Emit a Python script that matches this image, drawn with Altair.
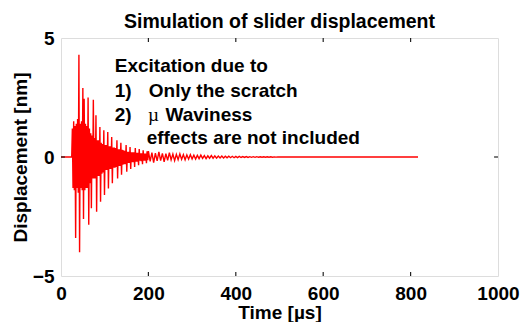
import altair as alt
import pandas as pd

# ---------------- data ----------------
lead_t = [0, 24.5]
lead_v = [0.0, 0.0]

dense_t = [26, 27.5, 29, 30.5, 32, 33.5, 35, 36.5, 38, 39.5,
           41, 42.5, 44, 45.5, 47, 48.5, 50, 51.5, 53, 54.5,
           56, 57.5, 59, 60.5, 62, 63.5, 65, 66.5, 68, 69.5,
           71, 72.5, 74, 75.5, 77, 78.5, 80, 81.5, 83, 84.5,
           86, 87.5, 89, 90.5, 92, 93.5, 95, 96.5, 98, 99.5,
           101, 102.5, 104, 105.5, 107, 108.5, 110, 111.5, 113, 114.5,
           116, 117.5, 119, 120.5, 122, 123.5, 125, 126.5, 128, 129.5,
           131, 132.5, 134, 135.5, 137, 138.5, 140, 141.5, 143, 144.5,
           146, 147.5, 149, 150.5, 152, 153.5, 155, 156.5, 158, 159.5,
           161, 162.5, 164, 165.5, 167, 168.5, 170, 171.5, 173, 174.5,
           176, 177.5, 179, 180.5, 182, 183.5, 185, 186.5, 188, 189.5,
           191, 192.5, 194, 195.5, 197, 198.5]
dense_v = [1.2, -1.3, 1.5, -1.4, 1.3, -3.4, 1.4, -1.3, 1.6, -1.5,
           4.3, -4.0, 1.4, -1.3, 1.5, -1.4, 2.9, -2.6, 2.45, -1.4,
           1.4, -1.3, 1.3, -1.3, 2.5, -2.85, 1.2, -1.1, 1.0, -2.15,
           0.9, -0.9, 2.4, -0.9, 0.8, -0.9, 1.75, -2.3, 0.7, -0.8,
           0.7, -0.8, 1.26, -1.88, 0.6, -0.7, 0.55, -0.65, 1.12, -1.6,
           0.5, -0.55, 0.5, -0.55, 1.05, -1.32, 0.45, -0.5, 0.45, -0.5,
           0.84, -1.1, 0.4, -0.45, 0.4, -0.45, 0.38, -0.42, 0.7, -0.9,
           0.32, -0.38, 0.32, -0.38, 0.6, -0.75, 0.3, -0.32, 0.28, -0.3,
           0.26, -0.3, 0.5, -0.62, 0.22, -0.25, 0.22, -0.25, 0.42, -0.5,
           0.2, -0.22, 0.2, -0.22, 0.2, -0.42, 0.38, -0.2, 0.18, -0.2,
           0.18, -0.35, 0.33, -0.16, 0.16, -0.18, 0.16, -0.3, 0.28, -0.15,
           0.14, -0.15, 0.14, -0.26, 0.24, -0.13]

tail_t = [200, 204, 208, 212, 216, 220, 224, 228, 232, 236,
          240, 244, 248, 252, 256, 260, 264, 268, 272, 276,
          280, 284, 288, 292, 296, 300, 304, 308, 312, 316,
          320, 324, 328, 332, 336, 340, 344, 348, 352, 356,
          360, 364, 368, 372, 376, 380, 384, 388, 392, 396,
          400, 404, 408, 412, 416, 420, 424, 428, 432, 436,
          440, 444, 448, 452, 456, 460, 464, 468, 472, 476,
          480, 484, 488, 492, 496, 500]
tail_v = [0.25, -0.18, 0.18, -0.24, 0.16, -0.16, 0.22, -0.15, 0.15, -0.2,
          0.14, -0.14, 0.18, -0.12, 0.12, -0.15, 0.11, -0.11, 0.13, -0.1,
          0.1, -0.12, 0.09, -0.09, 0.1, -0.08, 0.08, -0.09, 0.07, -0.07,
          0.08, -0.06, 0.06, -0.07, 0.05, -0.05, 0.06, -0.05, 0.05, -0.05,
          0.04, -0.04, 0.04, -0.04, 0.035, -0.035, 0.03, -0.03, 0.03, -0.03,
          0.025, -0.025, 0.025, -0.02, 0.02, -0.02, 0.02, -0.02, 0.015, -0.015,
          0.015, -0.015, 0.015, -0.012, 0.012, -0.012, 0.01, -0.01, 0.01, -0.01,
          0.008, -0.008, 0.006, -0.006, 0.004, 0.0]

end_t = [520, 817]
end_v = [0.0, 0.0]

x_tick_values = [0, 200, 400, 600, 800, 1000]
y_tick_values = [-5, 0, 5]
inner_x_ticks = [200, 400, 600, 800]
inner_y_ticks = [0]

title_text = "Simulation of slider displacement"
x_title = "Time [\u00b5s]"
y_title = "Displacement [nm]"

bold_lines = ["Excitation due to", "1)", "Only the scratch", "2)", "Waviness",
              "effects are not included"]
bold_x = [123, 123, 201, 123, 239, 196]
bold_y = [3.56, 2.53, 2.53, 1.52, 1.52, 0.54]
mu_lines = ["\u00b5"]
mu_x = [199]
mu_y = [1.52]

# ---------------- build tables ----------------
def seg(ts, vs):
    n = min(len(ts), len(vs))
    return list(ts[:n]), list(vs[:n])

all_t, all_v = [], []
for ts, vs in [(lead_t, lead_v), (dense_t, dense_v), (tail_t, tail_v), (end_t, end_v)]:
    a, b = seg(ts, vs)
    all_t += a
    all_v += b
sig = pd.DataFrame({"x": all_t, "y": all_v, "o": list(range(len(all_t)))})

FONT = "Liberation Sans"
FS = 19

xs = alt.Scale(domain=[0, 1000], nice=False, zero=False)
ys = alt.Scale(domain=[-5, 5], nice=False, zero=False)

x_axis = alt.Axis(values=x_tick_values, title=x_title, grid=False, domain=False, ticks=False,
                  format="d", labelPadding=8, titlePadding=0, labelFlush=False, labelOverlap=False,
                  labelFont=FONT, labelFontSize=FS, labelFontWeight="bold", labelColor="black",
                  titleFont=FONT, titleFontSize=FS, titleFontWeight="bold", titleColor="black")
y_axis = alt.Axis(values=y_tick_values, title=y_title, grid=False, domain=False, ticks=False,
                  labelPadding=7, titlePadding=2, labelFlush=False, labelOverlap=False,
                  labelFont=FONT, labelFontSize=FS, labelFontWeight="bold", labelColor="black",
                  titleFont=FONT, titleFontSize=FS, titleFontWeight="bold", titleColor="black")

def X(f):
    return alt.X(f, type="quantitative", scale=xs, axis=x_axis)

def Y(f):
    return alt.Y(f, type="quantitative", scale=ys, axis=y_axis)

line = alt.Chart(sig).mark_line(color="#ff0000", strokeWidth=1.4).encode(
    x=X("x"), y=Y("y"), order="o:Q")

tick_len_y = 0.17
tick_len_x = 9
bt = pd.DataFrame({"x": inner_x_ticks, "y": [-5] * len(inner_x_ticks),
                   "y2": [-5 + tick_len_y] * len(inner_x_ticks)})
tt = pd.DataFrame({"x": inner_x_ticks, "y": [5 - tick_len_y] * len(inner_x_ticks),
                   "y2": [5] * len(inner_x_ticks)})
lt = pd.DataFrame({"x": [0] * len(inner_y_ticks), "x2": [tick_len_x] * len(inner_y_ticks),
                   "y": inner_y_ticks})
rt = pd.DataFrame({"x": [1000 - tick_len_x] * len(inner_y_ticks), "x2": [1000] * len(inner_y_ticks),
                   "y": inner_y_ticks})

tick_style = dict(color="#222222", strokeWidth=1.2)
ticks_b = alt.Chart(bt).mark_rule(**tick_style).encode(x=X("x"), y=Y("y"), y2="y2")
ticks_t = alt.Chart(tt).mark_rule(**tick_style).encode(x=X("x"), y=Y("y"), y2="y2")
ticks_l = alt.Chart(lt).mark_rule(**tick_style).encode(x=X("x"), x2="x2", y=Y("y"))
ticks_r = alt.Chart(rt).mark_rule(**tick_style).encode(x=X("x"), x2="x2", y=Y("y"))

bold_df = pd.DataFrame({"x": bold_x, "y": bold_y, "t": bold_lines})
mu_df = pd.DataFrame({"x": mu_x, "y": mu_y, "t": mu_lines})

txt_bold = alt.Chart(bold_df).mark_text(
    font=FONT, fontSize=FS, fontWeight="bold", color="black",
    align="left", baseline="alphabetic").encode(x=X("x"), y=Y("y"), text="t:N")
txt_mu = alt.Chart(mu_df).mark_text(
    font="Liberation Serif", fontSize=FS, fontWeight="normal", color="black",
    align="left", baseline="alphabetic").encode(x=X("x"), y=Y("y"), text="t:N")

chart = alt.layer(line, ticks_b, ticks_t, ticks_l, ticks_r, txt_bold, txt_mu).properties(
    width=437, height=238,
    padding={"left": 53, "top": 30, "right": 26, "bottom": 46},
    autosize=alt.AutoSizeParams(type="none"),
    title=alt.TitleParams(title_text, font=FONT, fontSize=19.5, fontWeight="bold",
                          color="black", anchor="middle", offset=-3, frame="group"),
).configure_view(stroke="#222222", strokeWidth=1.2).configure(background="white")

chart.save("out.html", embed_options={"renderer": "svg", "actions": False})
